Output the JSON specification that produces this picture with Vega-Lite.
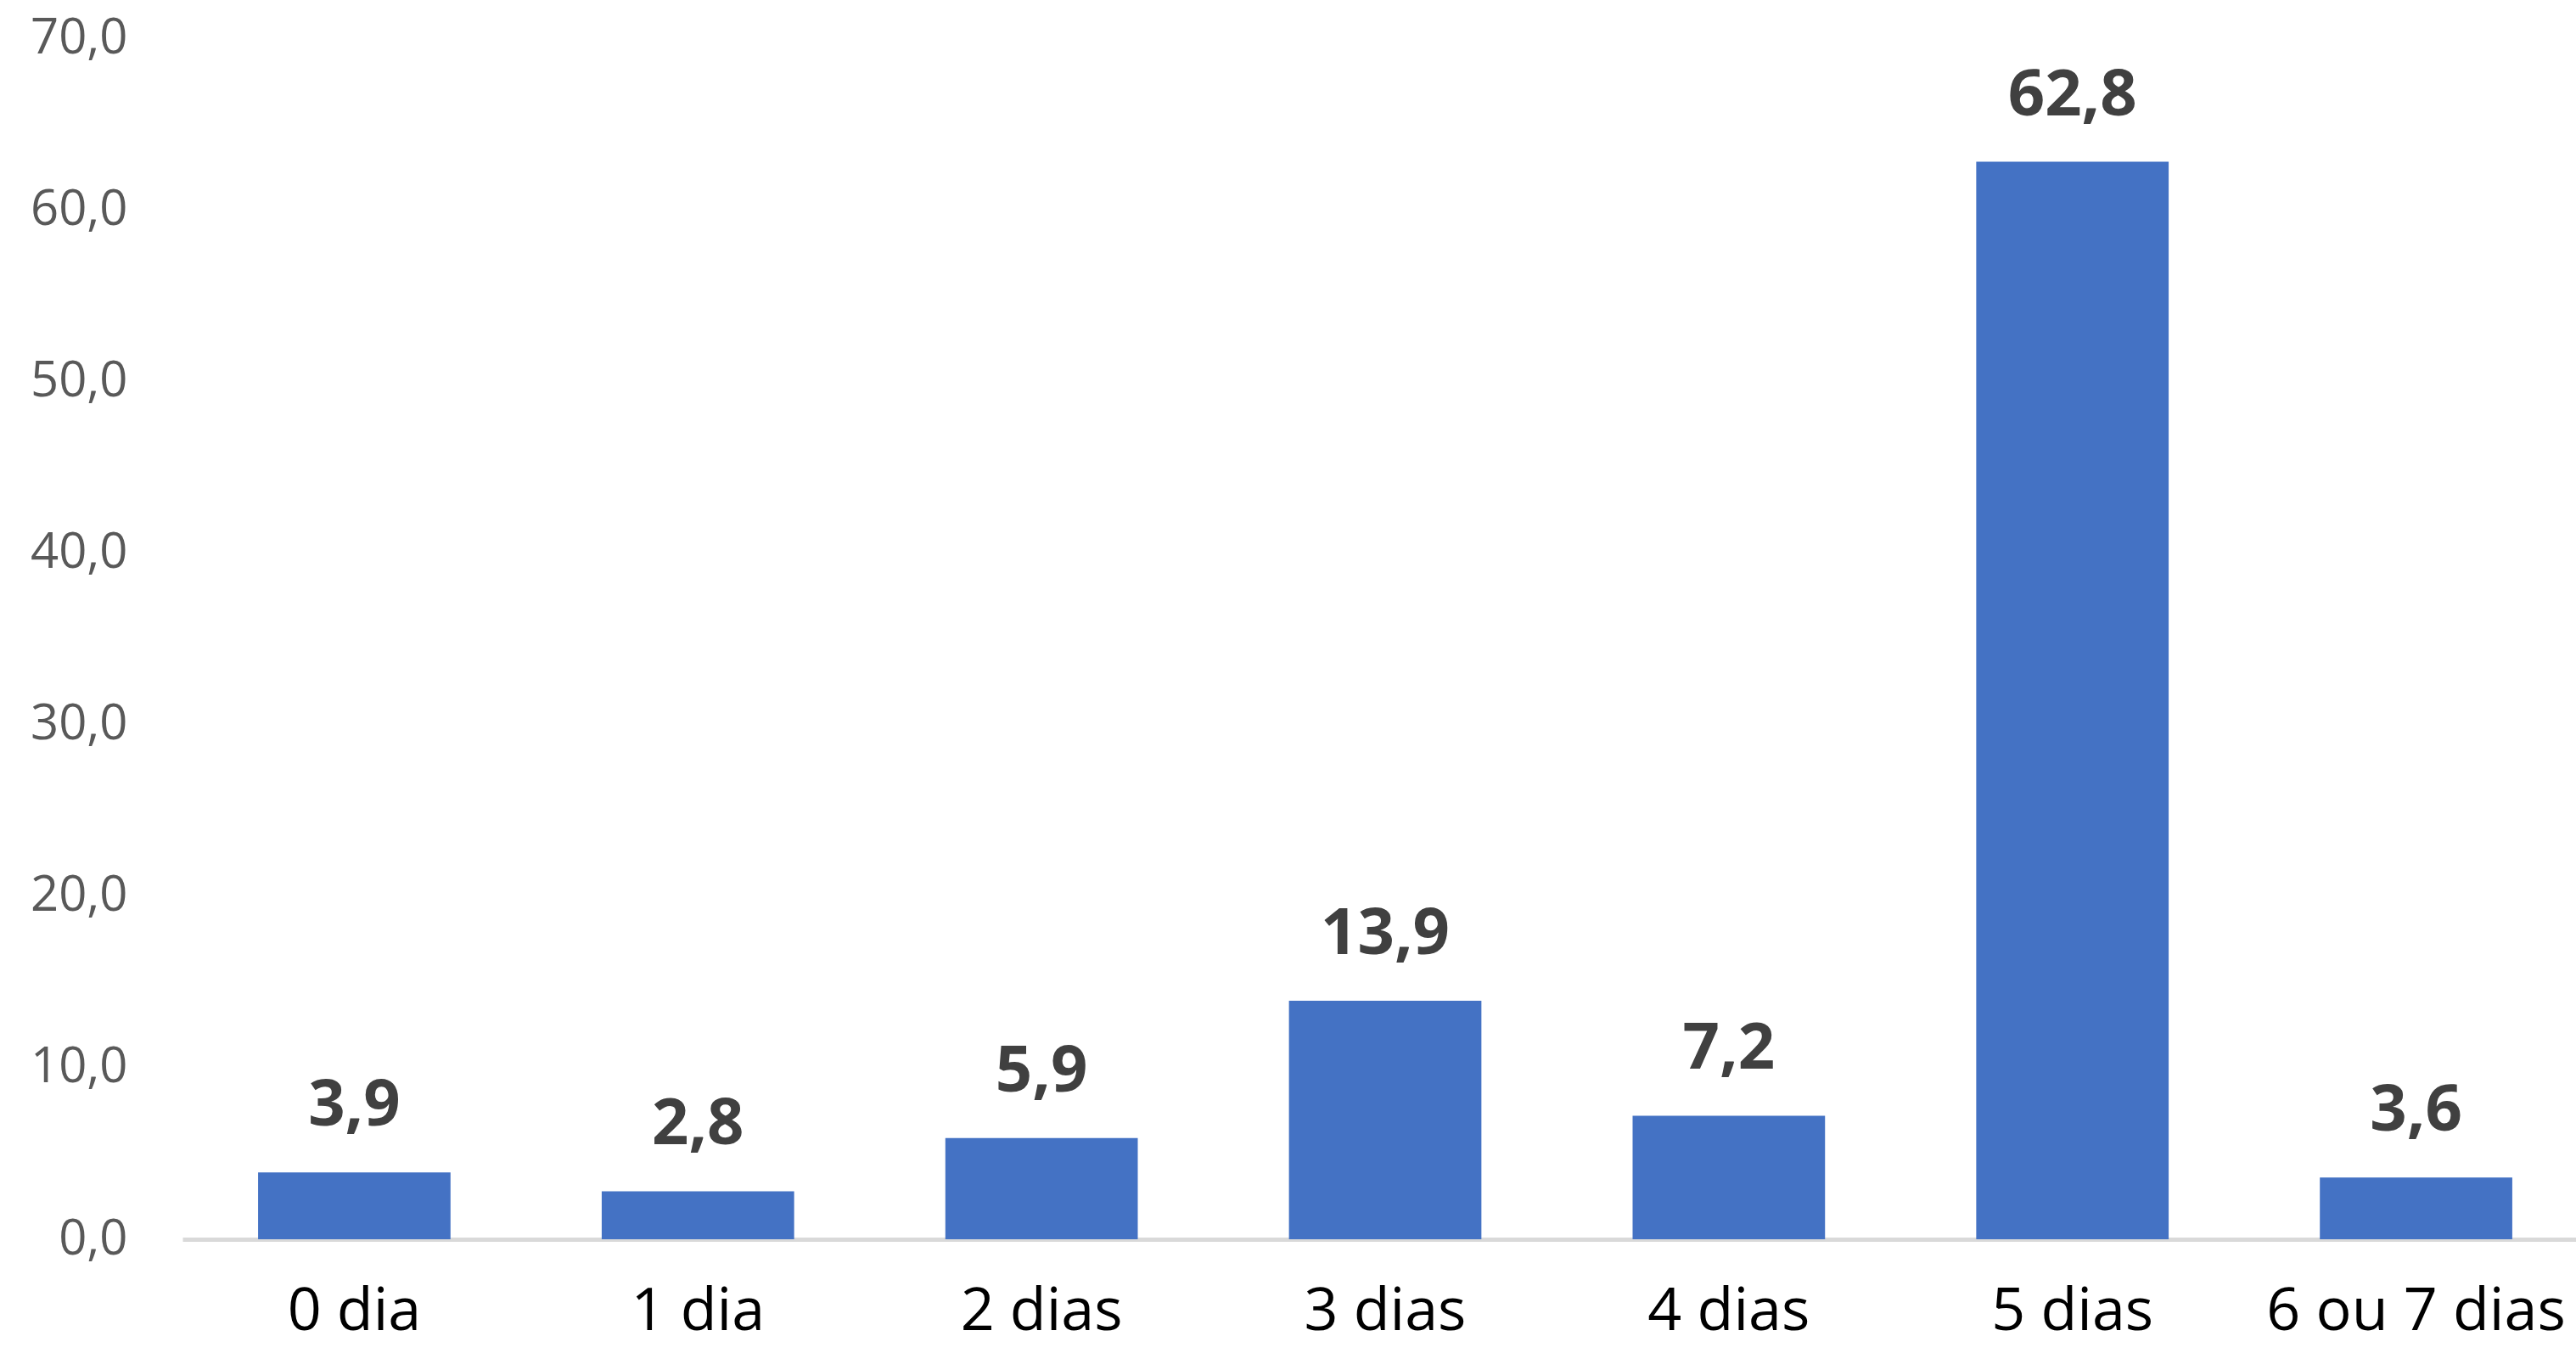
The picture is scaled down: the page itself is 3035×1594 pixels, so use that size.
{
  "$schema": "https://vega.github.io/schema/vega-lite/v6.json",
  "autosize": {"type": "none"},
  "width": 2834,
  "height": 1415,
  "padding": {"left": 215, "top": 45, "right": 0, "bottom": 134},
  "background": "white",
  "config": {
    "view": {"stroke": null},
    "locale": {"number": {"decimal": ",", "thousands": ".", "grouping": [3], "currency": ["", ""]}},
    "font": "Open Sans"
  },
  "data": {"values": [
    {"cat": "0 dia", "v": 3.9},
    {"cat": "1 dia", "v": 2.8},
    {"cat": "2 dias", "v": 5.9},
    {"cat": "3 dias", "v": 13.9},
    {"cat": "4 dias", "v": 7.2},
    {"cat": "5 dias", "v": 62.8},
    {"cat": "6 ou 7 dias", "v": 3.6}
  ]},
  "encoding": {
    "x": {"field": "cat", "type": "nominal", "sort": null,
      "scale": {"paddingInner": 0.44, "paddingOuter": 0.22},
      "axis": {"title": null, "labelAngle": 0, "ticks": false, "tickSize": 0, "grid": false,
        "domainColor": "#d9d9d9", "domainWidth": 5,
        "labelFont": "Open Sans", "labelFontSize": 70, "labelColor": "#000000",
        "labelBaseline": "alphabetic", "labelPadding": 106, "labelLimit": 0, "labelOverlap": false}},
    "y": {"field": "v", "type": "quantitative",
      "scale": {"domain": [0, 70], "nice": false},
      "axis": {"title": null, "values": [0, 10, 20, 30, 40, 50, 60, 70], "format": ".1f",
        "grid": false, "domain": false, "ticks": false, "tickSize": 0,
        "labelFont": "Open Sans", "labelFontSize": 58, "labelColor": "#595959",
        "labelPadding": 65}}
  },
  "layer": [
    {"mark": {"type": "bar", "color": "#4472C4"}},
    {"mark": {"type": "text", "baseline": "alphabetic", "dy": -55, "fontWeight": "bold",
      "fontSize": 76, "color": "#404040", "font": "Open Sans"},
     "encoding": {"text": {"field": "v", "type": "quantitative", "format": ".1f"}}}
  ]
}
